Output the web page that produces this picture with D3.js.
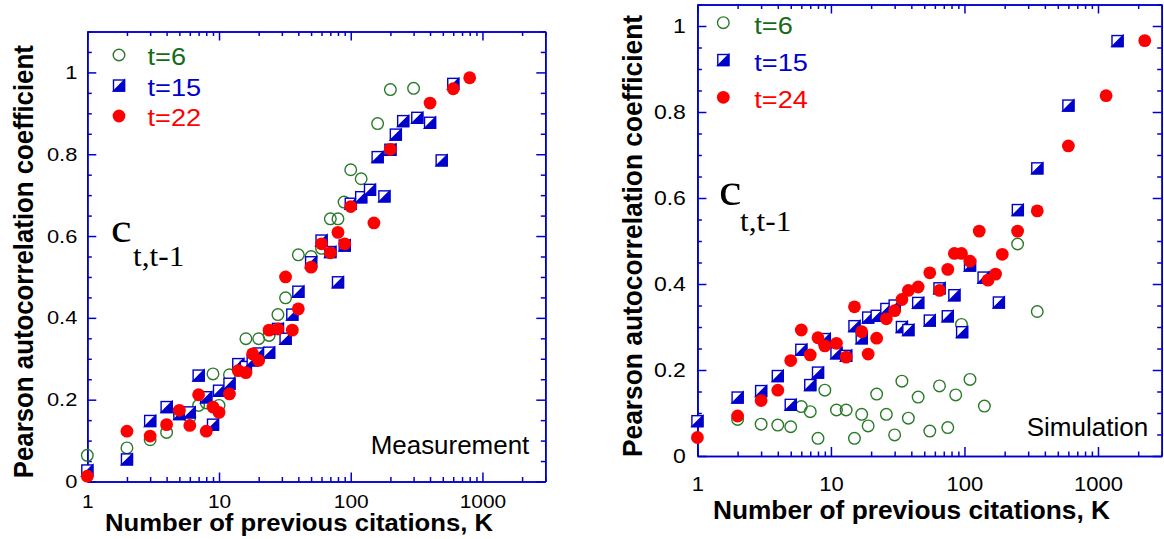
<!DOCTYPE html>
<html>
<head>
<meta charset="utf-8">
<script src="https://cdn.jsdelivr.net/npm/d3@7"></script>
<style>
  body { margin: 0; background: #fff; }
  svg text { font-family: "Liberation Sans", Arial, sans-serif; }
</style>
</head>
<body>
<svg id="chart" width="1164" height="539"></svg>
<script>
// ---- data ----
// Measurement panel
const measK6 = [1, 2, 3, 4, 5, 6, 7, 8, 9, 10, 12, 16, 20, 24, 28, 32, 40, 50, 60, 70, 80, 89, 100, 120, 160, 200, 300];
const measV6 = [0.064, 0.082, 0.102, 0.12, 0.166, 0.157, 0.186, 0.192, 0.263, 0.186, 0.261, 0.349, 0.349, 0.357, 0.408, 0.449, 0.554, 0.55, 0.57, 0.642, 0.642, 0.683, 0.762, 0.74, 0.875, 0.958, 0.961];

const measK15 = [1, 2, 3, 4, 5, 6, 7, 8, 9, 10, 12, 14, 16, 18, 20, 24, 28, 32, 36, 40, 50, 60, 70, 80, 90, 100, 120, 140, 160, 180, 200, 220, 250, 320, 400, 490, 600];
const measV15 = [0.027, 0.054, 0.148, 0.182, 0.165, 0.169, 0.259, 0.206, 0.139, 0.222, 0.239, 0.287, 0.28, 0.296, 0.313, 0.315, 0.373, 0.349, 0.408, 0.464, 0.536, 0.589, 0.561, 0.487, 0.577, 0.679, 0.695, 0.713, 0.793, 0.697, 0.811, 0.848, 0.881, 0.889, 0.877, 0.785, 0.972];

const measK22 = [1, 2, 3, 4, 5, 6, 7, 8, 9, 10, 12, 14, 16, 18, 20, 24, 28, 32, 36, 40, 50, 60, 70, 80, 90, 100, 150, 200, 400, 600, 800];
const measV22 = [0.013, 0.123, 0.111, 0.139, 0.174, 0.137, 0.212, 0.123, 0.182, 0.169, 0.214, 0.271, 0.266, 0.312, 0.296, 0.37, 0.373, 0.5, 0.37, 0.422, 0.524, 0.581, 0.559, 0.609, 0.581, 0.672, 0.632, 0.812, 0.925, 0.96, 0.987];

// Simulation panel
const simK6 = [2, 3, 4, 5, 6, 7, 8, 9, 11, 13, 15, 17, 19, 22, 26, 30, 34, 38, 45, 55, 65, 75, 86, 95, 110, 141, 250, 351];
const simV6 = [0.085, 0.074, 0.072, 0.068, 0.115, 0.103, 0.041, 0.153, 0.107, 0.107, 0.041, 0.097, 0.07, 0.144, 0.097, 0.049, 0.174, 0.088, 0.137, 0.058, 0.163, 0.066, 0.142, 0.306, 0.178, 0.116, 0.493, 0.336];

const simK15 = [1, 2, 3, 4, 5, 6, 7, 8, 9, 11, 13, 15, 17, 19, 22, 26, 30, 34, 38, 45, 55, 65, 75, 84, 96, 110, 139, 181, 251, 351, 600, 1400];
const simV15 = [0.081, 0.136, 0.151, 0.186, 0.119, 0.247, 0.165, 0.194, 0.272, 0.239, 0.233, 0.302, 0.274, 0.322, 0.326, 0.342, 0.35, 0.3, 0.293, 0.356, 0.315, 0.39, 0.325, 0.374, 0.288, 0.443, 0.415, 0.357, 0.572, 0.669, 0.815, 0.965];

const simK24 = [1, 2, 3, 4, 5, 6, 7, 8, 9, 11, 13, 15, 17, 19, 22, 26, 30, 34, 38, 45, 55, 65, 75, 84, 95, 110, 129, 150, 171, 192, 250, 351, 600, 1150, 2240];
const simV24 = [0.043, 0.093, 0.129, 0.153, 0.222, 0.293, 0.235, 0.275, 0.256, 0.262, 0.23, 0.347, 0.289, 0.237, 0.274, 0.319, 0.338, 0.364, 0.385, 0.393, 0.426, 0.385, 0.434, 0.471, 0.471, 0.453, 0.523, 0.409, 0.423, 0.469, 0.523, 0.57, 0.721, 0.838, 0.966];

const xDomain = [1, 3000];
const measLegend = ["t=6", "t=15", "t=22"];
const simLegend = ["t=6", "t=15", "t=24"];
const yTitle = "Pearson autocorrelation coefficient";
const xTitle = "Number of previous citations, K";

const blue = "#0000cc";
const green = "#2b7a2b";
const greenText = "#176a17";
const red = "#ff0000";

const svg = d3.select("#chart");

// the original figure is a bit wider than tall, so widen text a little
function stretch(sel, k) {
  sel.each(function () {
    const len = this.getComputedTextLength();
    if (len > 0) {
      d3.select(this)
        .attr("textLength", len * k)
        .attr("lengthAdjust", "spacingAndGlyphs");
    }
  });
}

function drawMarker(g, cx, cy, type) {
  const s = 11;
  if (type === "open") {
    g.append("circle")
      .attr("cx", cx).attr("cy", cy).attr("r", 5.8)
      .attr("fill", "none")
      .attr("stroke", green)
      .attr("stroke-width", 1.4);
  } else if (type === "half") {
    g.append("rect")
      .attr("x", cx - s / 2).attr("y", cy - s / 2)
      .attr("width", s).attr("height", s)
      .attr("fill", "#fff")
      .attr("stroke", blue)
      .attr("stroke-width", 1.4);
    g.append("path")
      .attr("d", `M${cx + s / 2},${cy - s / 2}L${cx + s / 2},${cy + s / 2}L${cx - s / 2},${cy + s / 2}Z`)
      .attr("fill", blue)
      .attr("stroke", blue)
      .attr("stroke-width", 1.4);
  } else {
    g.append("circle")
      .attr("cx", cx).attr("cy", cy).attr("r", 6.4)
      .attr("fill", red);
  }
}

function drawPanel(p) {
  const g = svg.append("g");
  const x = d3.scaleLog().domain(xDomain).range(p.xRange);
  const y = d3.scaleLinear().domain([0, p.yMax]).range(p.yRange);

  const isDecade = d => Math.abs(Math.log10(d) - Math.round(Math.log10(d))) < 1e-9;
  const xMajor = x.ticks().filter(isDecade);
  const xMinor = x.ticks().filter(d => !isDecade(d));
  const yMajor = y.ticks(5);
  const yMinor = y.ticks(20).filter(d => !yMajor.some(m => Math.abs(m - d) < 1e-9));

  const x0 = p.xRange[0], x1 = p.xRange[1];
  const y0 = p.yRange[0], y1 = p.yRange[1];

  const styleAxis = sel => {
    sel.select(".domain").attr("stroke", blue).attr("stroke-width", 1.6);
    sel.selectAll(".tick line").attr("stroke", blue).attr("stroke-width", 1.5);
    sel.selectAll(".tick text").attr("fill", "#000").style("font-size", p.tickFont + "px");
  };

  // bottom / left axes with labels
  g.append("g").attr("transform", `translate(0,${y0})`)
    .call(d3.axisBottom(x).tickValues(xMajor).tickSizeInner(-9).tickSizeOuter(0)
      .tickPadding(p.xPad).tickFormat(d3.format("d")))
    .call(styleAxis)
    .selectAll(".tick text").call(stretch, 1.1);
  g.append("g").attr("transform", `translate(0,${y0})`)
    .call(d3.axisBottom(x).tickValues(xMinor).tickSizeInner(-4.5).tickSizeOuter(0).tickFormat(""))
    .call(styleAxis);
  g.append("g").attr("transform", `translate(${x0},0)`)
    .call(d3.axisLeft(y).tickValues(yMajor).tickSizeInner(-9).tickSizeOuter(0)
      .tickPadding(p.yPad).tickFormat(d3.format("~g")))
    .call(styleAxis)
    .selectAll(".tick text").call(stretch, 1.15);
  g.append("g").attr("transform", `translate(${x0},0)`)
    .call(d3.axisLeft(y).tickValues(yMinor).tickSizeInner(-4.5).tickSizeOuter(0).tickFormat(""))
    .call(styleAxis);

  // mirrored top / right axes
  g.append("g").attr("transform", `translate(0,${y1})`)
    .call(d3.axisTop(x).tickValues(xMajor).tickSizeInner(-9).tickSizeOuter(0).tickFormat(""))
    .call(styleAxis);
  g.append("g").attr("transform", `translate(0,${y1})`)
    .call(d3.axisTop(x).tickValues(xMinor).tickSizeInner(-4.5).tickSizeOuter(0).tickFormat(""))
    .call(styleAxis);
  g.append("g").attr("transform", `translate(${x1},0)`)
    .call(d3.axisRight(y).tickValues(yMajor).tickSizeInner(-9).tickSizeOuter(0).tickFormat(""))
    .call(styleAxis);
  g.append("g").attr("transform", `translate(${x1},0)`)
    .call(d3.axisRight(y).tickValues(yMinor).tickSizeInner(-4.5).tickSizeOuter(0).tickFormat(""))
    .call(styleAxis);

  // data: t=6 first, then squares, red circles on top
  const marks = g.append("g");
  p.series.forEach(s => {
    s.k.forEach((k, i) => drawMarker(marks, x(k), y(s.v[i]), s.type));
  });

  // legend
  p.series.forEach((s, i) => {
    const ly = p.legendY + i * p.legendGap;
    drawMarker(g, p.legendX, ly, s.type);
    g.append("text")
      .attr("x", p.legendX + p.legendTextDx)
      .attr("y", ly + p.legendTextDy)
      .attr("fill", s.textColor)
      .style("font-size", p.legendFont + "px")
      .text(s.label)
      .call(stretch, 1.18);
  });

  // c_{t,t-1}
  g.append("text")
    .attr("x", p.cX).attr("y", p.cY)
    .style("font-family", "'Liberation Serif', 'Times New Roman', serif")
    .style("font-size", p.cFont + "px")
    .text("c")
    .call(stretch, 1.1);
  g.append("text")
    .attr("x", p.subX).attr("y", p.subY)
    .style("font-family", "'Liberation Serif', 'Times New Roman', serif")
    .style("font-size", "29px")
    .text("t,t-1")
    .call(stretch, 1.08);

  // panel tag
  g.append("text")
    .attr("x", p.tagX).attr("y", p.tagY)
    .attr("textLength", p.tagLen)
    .attr("lengthAdjust", "spacingAndGlyphs")
    .style("font-size", "26px")
    .text(p.tag);

  // axis titles
  g.append("text")
    .attr("transform", `translate(${p.yTitleX},${p.yTitleY}) rotate(-90)`)
    .attr("text-anchor", "middle")
    .attr("textLength", p.yTitleLen)
    .attr("lengthAdjust", "spacingAndGlyphs")
    .style("font-size", "27px")
    .style("font-weight", "bold")
    .text(yTitle);
  g.append("text")
    .attr("x", p.xTitleX).attr("y", p.xTitleY)
    .attr("text-anchor", "middle")
    .attr("textLength", p.xTitleLen)
    .attr("lengthAdjust", "spacingAndGlyphs")
    .style("font-size", p.xTitleFont + "px")
    .style("font-weight", "bold")
    .text(xTitle);
}

drawPanel({
  xRange: [87.3, 545.3], yRange: [481.5, 31.5], yMax: 1.1,
  tickFont: 19, xPad: 13, yPad: 10,
  series: [
    { k: measK6, v: measV6, type: "open", label: measLegend[0], textColor: greenText },
    { k: measK15, v: measV15, type: "half", label: measLegend[1], textColor: blue },
    { k: measK22, v: measV22, type: "fill", label: measLegend[2], textColor: red }
  ],
  legendX: 119, legendY: 55, legendGap: 30.5, legendTextDx: 28.5, legendTextDy: 10, legendFont: 23,
  cX: 111, cY: 242, cFont: 42, subX: 133, subY: 265.5,
  tag: "Measurement", tagX: 370.7, tagY: 454.3, tagLen: 158.6,
  yTitleX: 33.3, yTitleY: 261.7, yTitleLen: 433,
  xTitleX: 299, xTitleY: 530.7, xTitleLen: 388, xTitleFont: 23
});

drawPanel({
  xRange: [697.4, 1161.7], yRange: [456, 4.5], yMax: 1.05,
  tickFont: 20, xPad: 20.5, yPad: 11.5,
  series: [
    { k: simK6, v: simV6, type: "open", label: simLegend[0], textColor: greenText },
    { k: simK15, v: simV15, type: "half", label: simLegend[1], textColor: blue },
    { k: simK24, v: simV24, type: "fill", label: simLegend[2], textColor: red }
  ],
  legendX: 723.3, legendY: 22.7, legendGap: 37.3, legendTextDx: 31, legendTextDy: 10.8, legendFont: 23,
  cX: 719, cY: 205, cFont: 46, subX: 740, subY: 230.5,
  tag: "Simulation", tagX: 1026.7, tagY: 436, tagLen: 121.6,
  yTitleX: 641.7, yTitleY: 236, yTitleLen: 442,
  xTitleX: 911.5, xTitleY: 519.3, xTitleLen: 397, xTitleFont: 25
});
</script>
</body>
</html>
